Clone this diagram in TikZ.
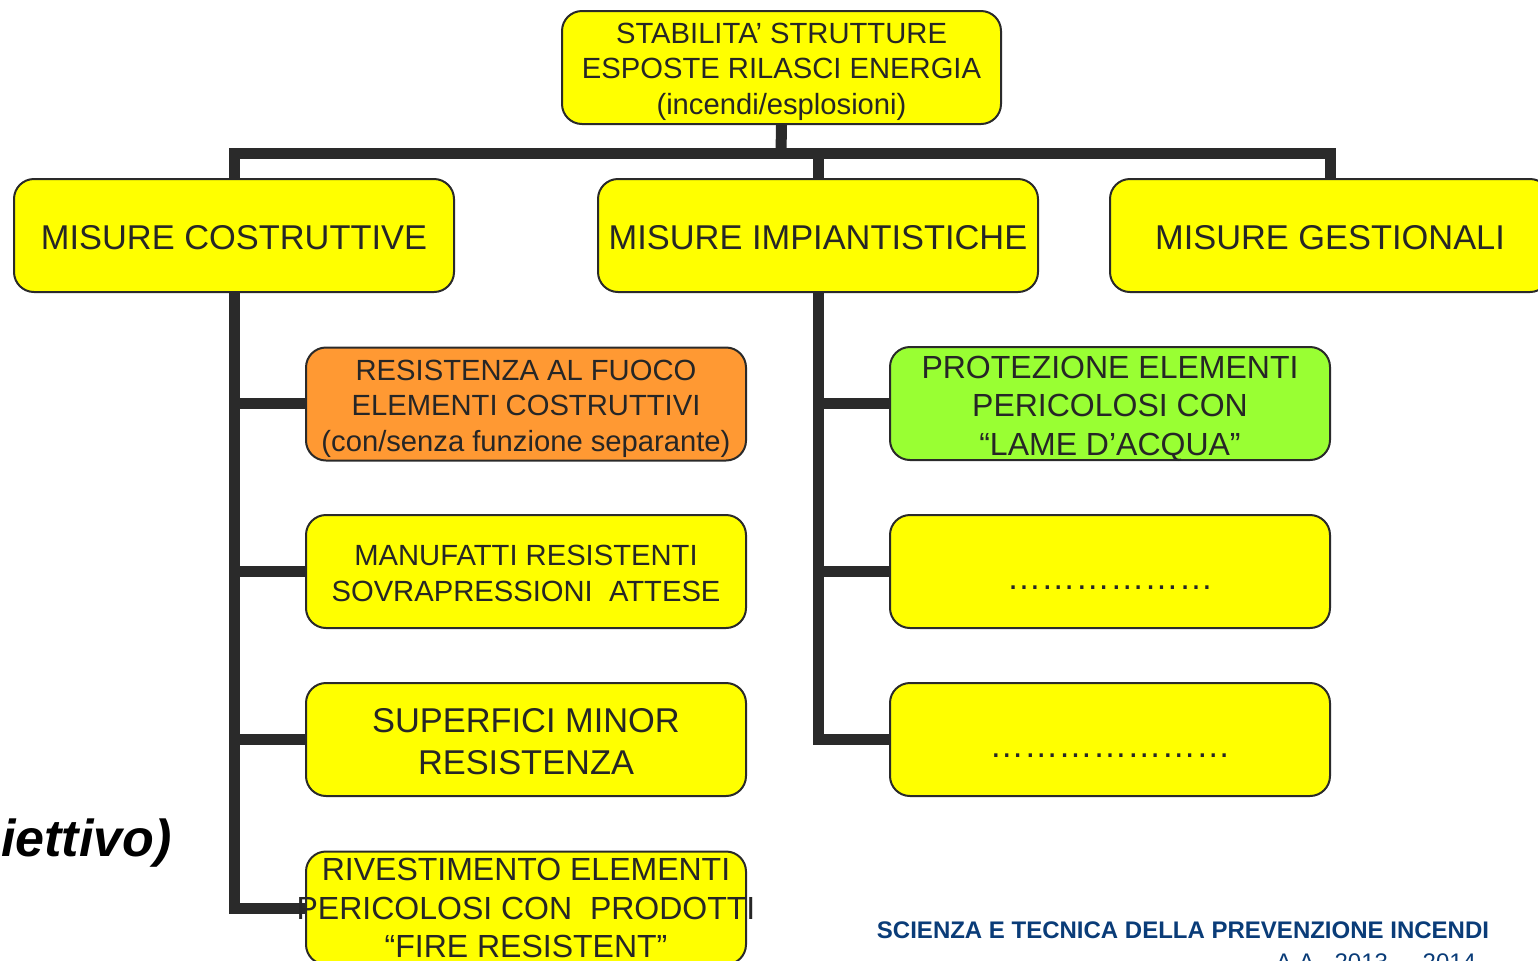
\documentclass[tikz,border=0pt]{standalone}
\usepackage{fontspec}
\setmainfont{Liberation Sans}
\definecolor{boxyellow}{RGB}{255,255,0}
\definecolor{boxorange}{RGB}{255,153,51}
\definecolor{boxgreen}{RGB}{153,255,51}
\definecolor{linegray}{RGB}{42,42,42}
\definecolor{txtgray}{RGB}{38,38,38}
\definecolor{footblue}{RGB}{10,60,120}
\tikzset{
  box/.style={draw=linegray, line width=1pt, rounded corners=10pt, fill=boxyellow,
    minimum width=220pt, minimum height=56.5pt, inner sep=0pt},
  lbl/.style={inner sep=0pt, align=center, text=txtgray},
  fsmall/.style={font=\fontsize{14.6}{17.75}\selectfont},
  fmid/.style={font=\fontsize{16}{19.2}\selectfont},
  fbig/.style={font=\fontsize{17.2}{21}\selectfont},
  conn/.style={draw=linegray, line width=5.5pt}
}
\begin{document}
\begin{tikzpicture}[x=0.5pt,y=-0.5pt]
\useasboundingbox (0,0) rectangle (1538,960);
\clip (0,0) rectangle (1538,960);
\coordinate (bus) at (781,153);
% boxes (level 1 and 2)
\node[box, minimum width=219.5pt] (top) at (781.5,67.5) {};
\node[box] (mc) at (234,235.5) {};
\node[box] (mi) at (818,235.5) {};
\node[box] (mg) at (1330,235.5) {};
% connectors
\coordinate (r1w) at (306,403);
\coordinate (r2w) at (306,571);
\coordinate (r3w) at (306,739);
\coordinate (r4w) at (306,908);
\coordinate (p1w) at (890,403);
\coordinate (p2w) at (890,571);
\coordinate (p3w) at (890,739);
\draw[conn] (top.south) -- (bus);
\draw[conn] (mc.north) |- (bus) -| (mg.north);
\draw[conn] (mi.north) |- (bus);
\draw[conn] (mc.south) |- (r4w);
\draw[conn] (mc.south) |- (r1w);
\draw[conn] (mc.south) |- (r2w);
\draw[conn] (mc.south) |- (r3w);
\draw[conn] (mi.south) |- (p3w);
\draw[conn] (mi.south) |- (p1w);
\draw[conn] (mi.south) |- (p2w);
% sub boxes
\node[box, fill=boxorange] (r1) at (526,404) {};
\node[box] (r2) at (526,571.5) {};
\node[box] (r3) at (526,739.5) {};
\node[box] (r4) at (526,908) {};
\node[box, fill=boxgreen] (p1) at (1110,403.5) {};
\node[box] (p2) at (1110,571.5) {};
\node[box] (p3) at (1110,739.5) {};
% labels
\node[lbl, fsmall, yshift=-2pt] (topt) at (top.center) {STABILITA’ STRUTTURE\\ESPOSTE RILASCI ENERGIA\\(incendi/esplosioni)};
\node[lbl, fbig, yshift=-1pt] (mct) at (mc.center) {MISURE COSTRUTTIVE};
\node[lbl, fbig, yshift=-1pt] (mit) at (mi.center) {MISURE IMPIANTISTICHE};
\node[lbl, fbig, yshift=-1pt] (mgt) at (mg.center) {MISURE GESTIONALI};
\node[lbl, fsmall, yshift=-2.2pt] (r1t) at (r1.center) {RESISTENZA AL FUOCO\\ELEMENTI COSTRUTTIVI\\(con/senza funzione separante)};
\node[lbl, fsmall, yshift=-1pt] (r2t) at (r2.center) {MANUFATTI RESISTENTI\\SOVRAPRESSIONI\ \ ATTESE};
\node[lbl, fbig, yshift=-1pt] (r3t) at (r3.center) {SUPERFICI MINOR\\RESISTENZA};
\node[lbl, fmid] (r4t) at (r4.center) {RIVESTIMENTO ELEMENTI\\PERICOLOSI CON\ \ PRODOTTI\\“FIRE RESISTENT”};
\node[lbl, fmid, yshift=-2.5pt] (p1t) at (p1.center) {PROTEZIONE ELEMENTI\\PERICOLOSI CON\\“LAME D’ACQUA”};
\node[lbl, fbig, yshift=-8pt] (p2t) at (p2.center) {………………};
\node[lbl, fbig, yshift=-8pt] (p3t) at (p3.center) {…………………};
% other texts
\node[anchor=east, inner sep=0pt, font=\fontsize{26}{30}\selectfont\bfseries\itshape, text=black] (obj) at (172,843) {iettivo)};
\node[anchor=center, inner sep=0pt, font=\fontsize{12}{14}\selectfont\bfseries, text=footblue] (foot1) at (1183,930) {SCIENZA E TECNICA DELLA PREVENZIONE INCENDI};
\node[anchor=center, inner sep=0pt, font=\fontsize{12}{14}\selectfont, text=footblue] (foot2) at (1376,962) {A.A.\ \ 2013\ \ -\ \ 2014};
\end{tikzpicture}
\end{document}
